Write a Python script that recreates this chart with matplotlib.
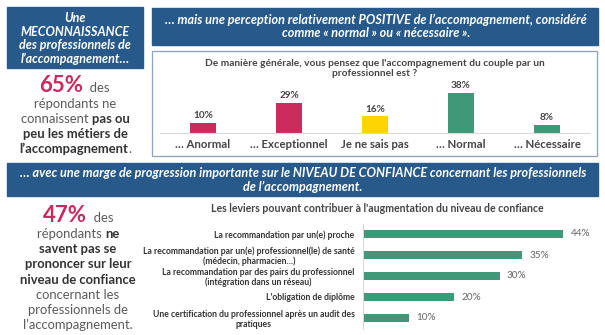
import matplotlib
matplotlib.use("Agg")
import matplotlib.pyplot as plt
from matplotlib.patches import Rectangle

# ---------------- data ----------------
perception_labels = ["… Anormal", "… Exceptionnel", "Je ne sais pas", "… Normal", "… Nécessaire"]
perception_values = [10, 29, 16, 38, 8]
perception_title = "De manière générale, vous pensez que l'accompagnement du couple par un\nprofessionnel est ?"

levier_labels = [
    "La recommandation par un(e) proche",
    "La recommandation par un(e) professionnel(le) de santé\n(médecin, pharmacien…)",
    "La recommandation par des pairs du professionnel\n(intégration dans un réseau)",
    "L'obligation de diplôme",
    "Une certification du professionnel après un audit des\npratiques",
]
levier_values = [44, 35, 30, 20, 10]
levier_title = "Les leviers pouvant contribuer à l'augmentation du niveau de confiance"

stat_top = "65%"
stat_bottom = "47%"

# ---------------- style ----------------
BLUE = "#27598A"
PINK = "#CB2A5D"
YELLOW = "#FFD400"
GREEN = "#3F9878"
GRAY = "#5A5A5A"
DARK = "#333333"
FONT = "Lato"
plt.rcParams["font.family"] = [FONT, "DejaVu Sans"]

W, H = 605, 335
fig = plt.figure(figsize=(W / 100, H / 100), dpi=100)
fig.patch.set_facecolor("white")

bg = fig.add_axes([0, 0, 1, 1])
bg.set_xlim(0, W)
bg.set_ylim(H, 0)
bg.axis("off")


def px_axes(x0, y0, x1, y1):
    return fig.add_axes([x0 / W, 1 - y1 / H, (x1 - x0) / W, (y1 - y0) / H])


# banners
bg.add_patch(Rectangle((7, 7), 136, 61, color=BLUE, zorder=1))
bg.add_patch(Rectangle((152, 8), 446, 37, color=BLUE, zorder=1))
bg.add_patch(Rectangle((7, 163), 591, 33, color=BLUE, zorder=1))
bg.add_patch(Rectangle((152, 51), 445, 105, facecolor="white", edgecolor="#8FA3BF", lw=0.9, zorder=1))

bt = dict(color="white", fontweight="bold", fontstyle="italic", ha="center", va="center", zorder=3)
for i, s in enumerate(["Une", "MECONNAISSANCE", "des professionnels de", "l\u2019accompagnement…"]):
    bg.text(75, 18 + i * 13.7, s, fontsize=9.0, **bt)
bg.text(376, 20, "… mais une perception relativement POSITIVE de l\u2019accompagnement, considéré",
        fontsize=9.1, **bt)
bg.text(376, 33, "comme « normal » ou « nécessaire ».", fontsize=9.1, **bt)
bg.text(303, 173, "… avec une marge de progression importante sur le NIVEAU DE CONFIANCE concernant les professionnels",
        fontsize=9.1, **bt)
bg.text(303, 187, "de l\u2019accompagnement.", fontsize=9.1, **bt)

# mixed-weight centered lines
fig.canvas.draw()
renderer = fig.canvas.get_renderer()


def mixed_line(xc, yb, parts):
    texts = []
    for s, kw in parts:
        t = bg.text(0, yb, s, va="baseline", ha="left", zorder=3, **kw)
        texts.append(t)
    widths = [t.get_window_extent(renderer).width for t in texts]
    x = xc - sum(widths) / 2
    for t, w in zip(texts, widths):
        t.set_x(x)
        x += w


N = dict(color=GRAY, fontsize=9.4)
B = dict(color=DARK, fontsize=9.4, fontweight="bold")
BIG = dict(color=PINK, fontsize=16, fontweight="bold")

mixed_line(74, 92, [(stat_top, BIG), ("  des", N)])
mixed_line(75, 108, [("répondants ne", N)])
mixed_line(75, 123, [("connaissent ", N), ("pas ou", B)])
mixed_line(75, 138, [("peu les métiers de", B)])
mixed_line(75, 153, [("l\u2019accompagnement", B), (".", N)])

mixed_line(78, 222, [(stat_bottom, BIG), ("  des", N)])
mixed_line(78, 238, [("répondants ", N), ("ne", B)])
mixed_line(78, 253, [("savent pas se", B)])
mixed_line(78, 268, [("prononcer sur leur", B)])
mixed_line(78, 284, [("niveau de confiance", B)])
mixed_line(78, 299, [("concernant les", N)])
mixed_line(78, 314, [("professionnels de", N)])
mixed_line(78, 329, [("l\u2019accompagnement.", N)])

# ---------------- chart 1 ----------------
ax1 = px_axes(160, 83, 590, 133)
colors1 = [PINK, PINK, YELLOW, GREEN, GREEN]
xs = range(len(perception_values))
ax1.bar(xs, perception_values, width=0.31, color=colors1, zorder=2)
ax1.set_xlim(-0.5, len(perception_values) - 0.5)
ax1.set_ylim(0, 50 / 1.05)
for x, v in zip(xs, perception_values):
    ax1.text(x, v + 2.5, f"{v}%", ha="center", va="bottom", fontsize=7.2, fontweight="bold", color="#444444")
ax1.set_xticks(list(xs))
ax1.set_xticklabels(perception_labels, fontsize=8.2, fontweight="bold", color="#444444")
ax1.tick_params(axis="x", length=0, pad=4)
ax1.set_yticks([])
for sp in ["top", "right", "left"]:
    ax1.spines[sp].set_visible(False)
ax1.spines["bottom"].set_color("#D9D9D9")
ax1.patch.set_alpha(0)
bg.text(375, 63, perception_title.split("\n")[0], ha="center", va="center", fontsize=7.3,
        fontweight="bold", color="#444444", zorder=3)
bg.text(375, 73, perception_title.split("\n")[1], ha="center", va="center", fontsize=7.3,
        fontweight="bold", color="#444444", zorder=3)

# ---------------- chart 2 ----------------
ax2 = px_axes(363, 223.5, 600, 328.5)
ys = range(len(levier_values))
ax2.barh(ys, levier_values, height=0.34, color=GREEN, zorder=2)
ax2.set_xlim(0, 237 / 4.55)
ax2.set_ylim(len(levier_values) - 0.5, -0.5)
for y, v in zip(ys, levier_values):
    ax2.text(v + 1.6, y, f"{v}%", ha="left", va="center", fontsize=7.2, color="#666666")
ax2.set_yticks(list(ys))
ax2.set_yticklabels(levier_labels, fontsize=6.2, fontweight="bold", color="#333333", linespacing=1.1)
ax2.tick_params(axis="y", length=0, pad=6)
ax2.set_xticks([])
for sp in ["top", "right", "bottom"]:
    ax2.spines[sp].set_visible(False)
ax2.spines["left"].set_color("#D9D9D9")
ax2.patch.set_alpha(0)
for lab in ax2.get_yticklabels():
    lab.set_horizontalalignment("right")
    lab.set_multialignment("center")
bg.text(377, 208, levier_title, ha="center", va="center", fontsize=7.6, fontweight="bold",
        color="#444444", zorder=3)

fig.savefig("out.png", dpi=100, facecolor="white")
